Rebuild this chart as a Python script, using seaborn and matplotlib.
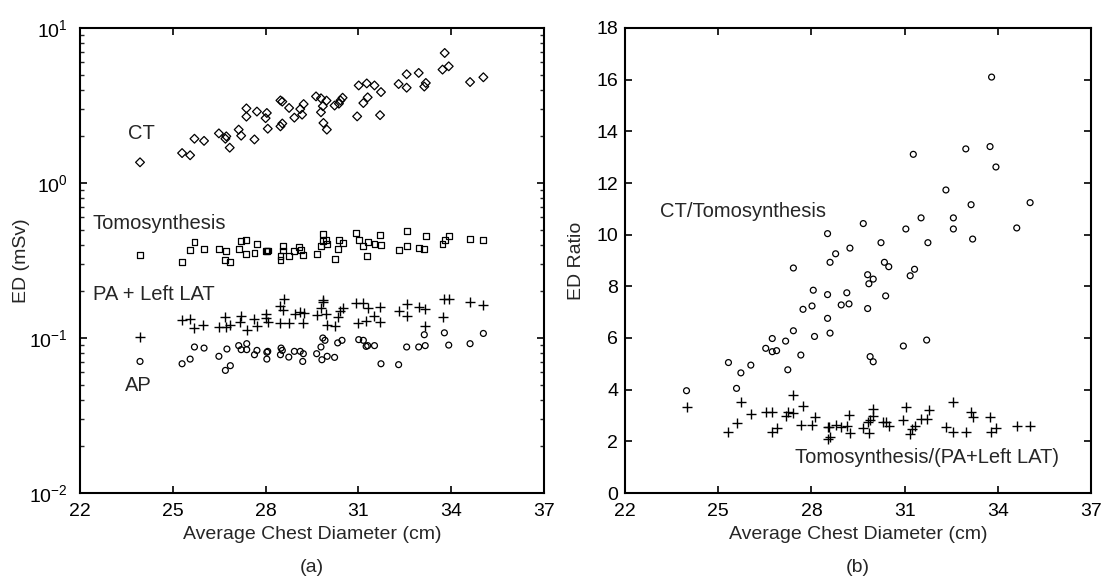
import numpy as np
import pandas as pd
import matplotlib
matplotlib.use("Agg")
import matplotlib.pyplot as plt
import seaborn as sns

# ---------------- data ----------------
ct_x = [23.94, 25.30, 25.56, 25.70, 26.01, 26.49, 26.73, 26.70, 26.84, 27.13, 27.21, 27.38, 27.38,
        27.64, 27.72, 28.00, 28.04, 28.07, 28.48, 28.54, 28.48, 28.54, 28.76, 28.93, 29.12, 29.18,
        29.23, 29.63, 29.79, 29.85, 29.79, 29.87, 29.98, 29.97, 30.23, 30.37, 30.42, 30.49, 30.96,
        31.01, 31.16, 31.27, 31.30, 31.52, 31.70, 31.73, 32.30, 32.56, 32.56, 32.95, 33.13, 33.18,
        33.72, 33.79, 33.92, 34.61, 35.04]
ct_y = [1.36, 1.56, 1.51, 1.93, 1.87, 2.09, 2.00, 1.93, 1.69, 2.21, 2.02, 3.03, 2.68,
        1.91, 2.89, 2.62, 2.83, 2.24, 3.41, 3.35, 2.32, 2.42, 3.05, 2.64, 3.00, 2.76,
        3.23, 3.62, 3.52, 3.13, 2.86, 2.44, 2.21, 3.40, 3.16, 3.25, 3.41, 3.55, 2.69,
        4.26, 3.28, 4.39, 3.57, 4.26, 2.74, 3.86, 4.35, 5.03, 4.12, 5.13, 4.19, 4.42,
        5.39, 6.90, 5.66, 4.48, 4.81]

tomo_x = [23.94, 25.30, 25.56, 25.70, 26.01, 26.49, 26.73, 26.70, 26.84, 27.13, 27.21, 27.38, 27.37,
          27.64, 27.72, 28.00, 28.04, 28.07, 28.48, 28.48, 28.56, 28.56, 28.75, 28.93, 29.09, 29.15,
          29.22, 29.65, 29.79, 29.87, 29.85, 29.96, 29.99, 30.23, 30.33, 30.37, 30.49, 30.92, 31.01,
          31.16, 31.27, 31.30, 31.52, 31.70, 31.73, 32.30, 32.56, 32.56, 32.95, 33.13, 33.18, 33.72,
          33.81, 33.92, 34.61, 35.04]
tomo_y = [0.341, 0.309, 0.371, 0.416, 0.375, 0.375, 0.362, 0.320, 0.308, 0.376, 0.424, 0.431, 0.349,
          0.353, 0.402, 0.365, 0.362, 0.367, 0.336, 0.317, 0.390, 0.367, 0.336, 0.362, 0.386, 0.371,
          0.341, 0.348, 0.390, 0.466, 0.421, 0.431, 0.406, 0.325, 0.374, 0.426, 0.410, 0.476, 0.426,
          0.394, 0.336, 0.414, 0.406, 0.459, 0.400, 0.371, 0.488, 0.390, 0.380, 0.375, 0.453, 0.403,
          0.431, 0.453, 0.435, 0.426]

pa_x = [23.94, 25.30, 25.54, 25.70, 25.99, 26.49, 26.70, 26.73, 26.86, 27.16, 27.21, 27.39, 27.64,
        27.72, 28.00, 28.02, 28.07, 28.48, 28.58, 28.48, 28.56, 28.77, 28.94, 29.12, 29.20, 29.25,
        29.65, 29.79, 29.85, 29.87, 29.96, 29.98, 30.23, 30.33, 30.39, 30.49, 30.92, 30.98, 31.16,
        31.25, 31.30, 31.52, 31.70, 31.70, 32.30, 32.56, 32.56, 32.95, 33.16, 33.16, 33.74, 33.78,
        33.92, 34.61, 35.04]
pa_y = [0.101, 0.131, 0.133, 0.116, 0.122, 0.118, 0.136, 0.118, 0.122, 0.126, 0.138, 0.113, 0.133,
        0.120, 0.142, 0.135, 0.127, 0.125, 0.179, 0.162, 0.152, 0.125, 0.142, 0.147, 0.125, 0.144,
        0.140, 0.156, 0.170, 0.177, 0.143, 0.122, 0.119, 0.136, 0.149, 0.156, 0.167, 0.125, 0.168,
        0.128, 0.156, 0.138, 0.159, 0.126, 0.149, 0.166, 0.138, 0.159, 0.154, 0.119, 0.136, 0.179,
        0.179, 0.170, 0.164]

ap_x = [23.94, 25.30, 25.56, 25.70, 26.01, 26.49, 26.70, 26.86, 26.75, 27.13, 27.21, 27.39, 27.39,
        27.64, 27.72, 28.04, 28.04, 28.07, 28.50, 28.54, 28.48, 28.75, 28.93, 29.12, 29.20, 29.22,
        29.65, 29.79, 29.85, 29.92, 29.82, 29.99, 30.23, 30.33, 30.47, 31.01, 31.16, 31.25, 31.30,
        31.52, 31.73, 32.30, 32.56, 32.95, 33.16, 33.13, 33.78, 33.92, 34.61, 35.04]
ap_y = [0.0706, 0.0682, 0.0731, 0.0875, 0.0861, 0.0762, 0.0618, 0.0663, 0.0849, 0.0893, 0.0841, 0.0919, 0.0841,
        0.0780, 0.0832, 0.0731, 0.0809, 0.0820, 0.0861, 0.0832, 0.0780, 0.0753, 0.0820, 0.0820, 0.0706, 0.0792,
        0.0792, 0.0875, 0.1000, 0.0966, 0.0724, 0.0762, 0.0750, 0.0930, 0.0966, 0.0976, 0.0966, 0.0883, 0.0893,
        0.0893, 0.0682, 0.0673, 0.0875, 0.0875, 0.0893, 0.1050, 0.1080, 0.0900, 0.0919, 0.1070]

ratio_ct_x = [31.28, 32.97, 33.75, 33.94, 32.33, 33.14, 35.04, 31.53, 32.57, 29.67, 31.04, 32.57, 34.61,
              28.52, 33.19, 30.24, 31.75, 29.24, 28.78, 28.60, 30.35, 30.49, 27.42, 31.32, 31.18, 29.81,
              29.99, 29.85, 28.06, 29.14, 28.52, 30.39, 29.21, 28.96, 28.02, 27.73, 29.81, 28.52, 27.42,
              28.60, 28.10, 26.74, 27.17, 31.71, 23.98, 25.33, 25.73, 26.05, 25.59, 26.53, 26.74, 26.88,
              27.24, 27.66, 29.89, 29.99, 30.96, 33.80]
ratio_ct_y = [13.11, 13.32, 13.41, 12.62, 11.73, 11.16, 11.24, 10.65, 10.65, 10.43, 10.22, 10.22, 10.26,
              10.04, 9.83, 9.69, 9.69, 9.48, 9.26, 8.93, 8.93, 8.76, 8.71, 8.66, 8.41, 8.45,
              8.28, 8.10, 7.85, 7.75, 7.68, 7.63, 7.32, 7.28, 7.24, 7.11, 7.14, 6.76, 6.28,
              6.19, 6.06, 5.98, 5.88, 5.92, 3.96, 5.05, 4.65, 4.95, 4.05, 5.60, 5.47, 5.51,
              4.77, 5.34, 5.28, 5.08, 5.69, 16.10]

ratio_pa_x = [23.98, 25.33, 25.59, 25.73, 26.05, 26.53, 26.74, 26.74, 26.88, 27.17, 27.24, 27.42, 27.42,
              27.66, 27.74, 28.03, 28.10, 28.52, 28.52, 28.60, 28.57, 28.78, 28.96, 29.14, 29.21, 29.24,
              29.67, 29.81, 29.85, 29.89, 29.99, 29.99, 30.32, 30.39, 30.49, 30.96, 31.04, 31.18, 31.25,
              31.32, 31.53, 31.71, 31.77, 32.33, 32.57, 32.57, 32.97, 33.14, 33.19, 33.75, 33.79, 33.94,
              34.61, 35.04]
ratio_pa_y = [3.34, 2.37, 2.72, 3.52, 3.06, 3.15, 3.15, 2.37, 2.50, 2.98, 3.15, 3.79, 3.08,
              2.63, 3.37, 2.63, 2.95, 2.54, 2.09, 2.18, 2.57, 2.63, 2.54, 2.59, 3.02, 2.34,
              2.50, 2.76, 2.34, 2.83, 3.26, 2.98, 2.76, 2.76, 2.59, 2.83, 3.32, 2.27, 2.46,
              2.59, 2.86, 2.85, 3.21, 2.57, 3.54, 2.37, 2.37, 3.15, 2.93, 2.93, 2.37, 2.50,
              2.59, 2.59]

x_ticks = [22, 25, 28, 31, 34, 37]
ratio_ticks = [0, 2, 4, 6, 8, 10, 12, 14, 16, 18]

# ---------------- style ----------------
sns.set_style("ticks")
plt.rcParams["font.family"] = ["Liberation Sans", "DejaVu Sans"]
plt.rcParams["mathtext.fontset"] = "custom"
plt.rcParams["mathtext.rm"] = "Liberation Sans"
plt.rcParams["mathtext.it"] = "Liberation Sans:italic"
plt.rcParams["axes.linewidth"] = 1.5
plt.rcParams["axes.edgecolor"] = "black"

fig = plt.figure(figsize=(11.02, 5.78), dpi=100)
W, H = 1102, 578
ax1 = fig.add_axes([80 / W, 85 / H, 464 / W, 465 / H])
ax2 = fig.add_axes([625 / W, 85 / H, 466 / W, 465 / H])

hollow = dict(facecolor="none", edgecolor="black", linewidth=0.9)

sns.scatterplot(data=pd.DataFrame({"x": ct_x, "y": ct_y}), x="x", y="y", ax=ax1,
                marker="D", s=20, **hollow)
sns.scatterplot(data=pd.DataFrame({"x": tomo_x, "y": tomo_y}), x="x", y="y", ax=ax1,
                marker="s", s=18, **hollow)
sns.scatterplot(data=pd.DataFrame({"x": pa_x, "y": pa_y}), x="x", y="y", ax=ax1,
                marker="+", s=45, color="black", linewidth=1.0)
sns.scatterplot(data=pd.DataFrame({"x": ap_x, "y": ap_y}), x="x", y="y", ax=ax1,
                marker="o", s=18, **hollow)

sns.scatterplot(data=pd.DataFrame({"x": ratio_ct_x, "y": ratio_ct_y}), x="x", y="y", ax=ax2,
                marker="o", s=18, **hollow)
sns.scatterplot(data=pd.DataFrame({"x": ratio_pa_x, "y": ratio_pa_y}), x="x", y="y", ax=ax2,
                marker="+", s=55, color="black", linewidth=1.0)

# ---------------- axes ----------------
ax1.set_yscale("log")
ax1.set_ylim(1e-2, 1e1)
ax2.set_ylim(0, 18)
ax2.set_yticks(ratio_ticks)
for ax in (ax1, ax2):
    ax.set_xlim(22, 37)
    ax.set_xticks(x_ticks)
    for s in ax.spines.values():
        s.set_visible(True)
        s.set_linewidth(1.5)
    ax.tick_params(which="major", direction="in", length=5, width=1.2,
                   top=True, right=True, labelsize=14, colors="black")
    ax.tick_params(which="minor", direction="in", length=3, width=1.0,
                   top=True, right=True)
    ax.tick_params(axis="x", pad=7)
    ax.set_xlabel("Average Chest Diameter (cm)", fontsize=14)
    ax.xaxis.set_label_coords(0.5, -0.072)
ax1.tick_params(axis="y", pad=9)
ax2.tick_params(axis="y", pad=5)
ax1.set_ylabel("ED (mSv)", fontsize=14)
ax1.yaxis.set_label_coords(-0.108, 0.5)
ax2.set_ylabel("ED Ratio", fontsize=14)
ax2.yaxis.set_label_coords(-0.086, 0.5)

# ---------------- annotations ----------------
tk = dict(fontsize=14.5, ha="left", va="center")
ax1.text(23.55, 2.1, "CT", **tk)
ax1.text(22.39, 0.546, "Tomosynthesis", **tk)
ax1.text(22.42, 0.190, "PA + Left LAT", **tk)
ax1.text(23.45, 0.0492, "AP", **tk)
ax2.text(23.13, 10.9, "CT/Tomosynthesis", **tk)
ax2.text(27.48, 1.39, "Tomosynthesis/(PA+Left LAT)", **tk)

fig.text(312 / W, 10 / H, "(a)", fontsize=14, ha="center", va="center")
fig.text(858 / W, 10 / H, "(b)", fontsize=14, ha="center", va="center")

fig.savefig("out.png", dpi=100)
